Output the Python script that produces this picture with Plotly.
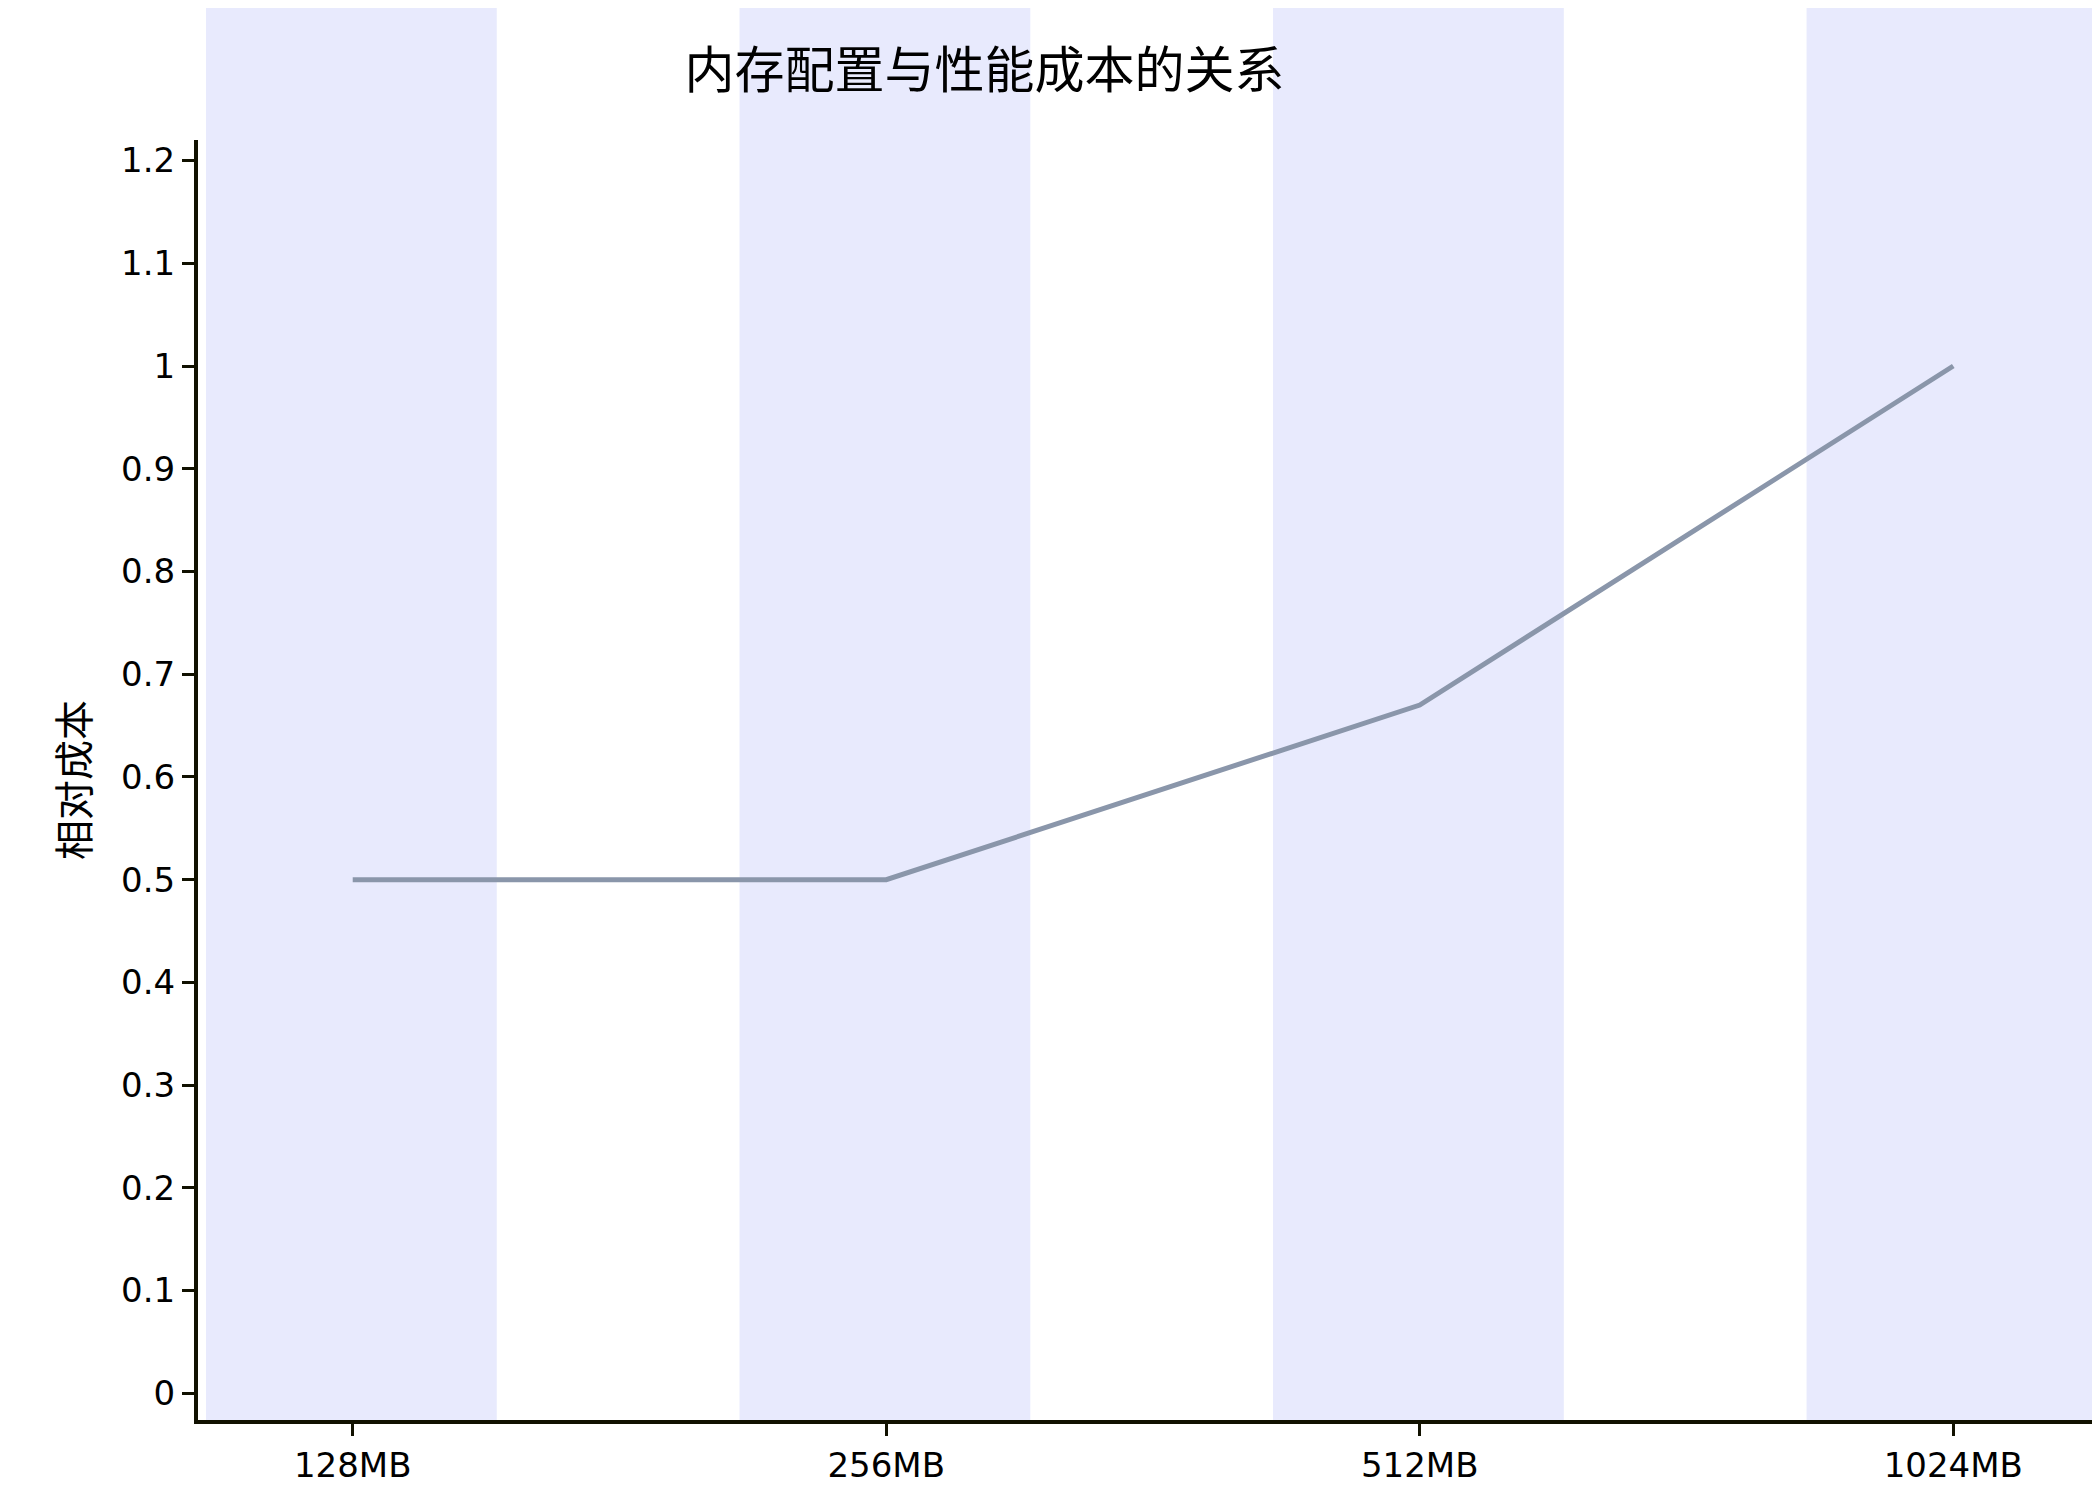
import plotly.graph_objects as go

categories = ["128MB", "256MB", "512MB", "1024MB"]
cost = [0.5, 0.5, 0.67, 1.0]
y_ticks = [0, 0.1, 0.2, 0.3, 0.4, 0.5, 0.6, 0.7, 0.8, 0.9, 1, 1.1, 1.2]

fig = go.Figure(go.Scatter(x=list(range(len(categories))), y=cost, mode="lines",
                           line=dict(color="#8a96aa", width=5), showlegend=False))
for i in range(len(categories)):
    fig.add_shape(type="rect", xref="x", yref="paper", x0=i - 0.275, x1=i + 0.27, y0=0, y1=1.2,
                  fillcolor="#e8eafd", line_width=0, layer="below")
fig.update_layout(
    width=2100, height=1500, paper_bgcolor="white", plot_bgcolor="white",
    margin=dict(l=190, r=0, t=132, b=88),
    font=dict(family="DejaVu Sans, Noto Sans CJK SC", size=34, color="black"),
    title=dict(text="内存配置与性能成本的关系", x=0.465, xanchor="center", y=0.97, font=dict(size=50, family="Noto Sans CJK SC")),
    xaxis=dict(range=[-0.29, 3.29], tickmode="array", tickvals=list(range(len(categories))), ticktext=categories,
               showgrid=False, zeroline=False, showline=True, linecolor="#111100", linewidth=4,
               ticks="outside", ticklen=12, tickwidth=3, tickcolor="#111100"),
    yaxis=dict(range=[-0.026, 1.22], tickvals=y_ticks, ticktext=[f"{v:g}" for v in y_ticks],
               showgrid=False, zeroline=False, showline=True, linecolor="#111100", linewidth=4,
               ticks="outside", ticklen=12, tickwidth=3, tickcolor="#111100",
               title=dict(text="相对成本", font=dict(size=40, family="Noto Sans CJK SC"), standoff=20)),
)
fig.write_html("out.html")
